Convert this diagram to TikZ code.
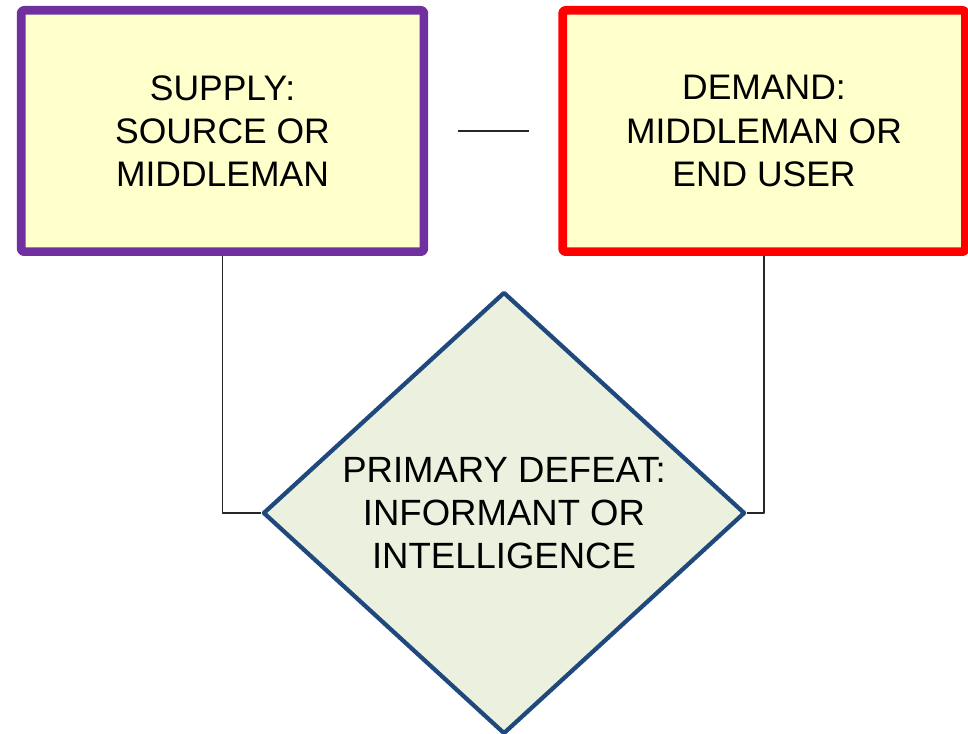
\documentclass[tikz,border=0pt]{standalone}
\usepackage{fontspec}
\setmainfont{Liberation Sans}
\usetikzlibrary{shapes.geometric}
\definecolor{boxfill}{HTML}{FFFFCC}
\definecolor{supplyline}{HTML}{7030A0}
\definecolor{defeatfill}{HTML}{EBF1DE}
\definecolor{defeatline}{HTML}{1F497D}
\begin{document}
\begin{tikzpicture}[x=0.75pt, y=-0.75pt, line join=round,
        every node/.style={font=\fontsize{26.6}{32.3}\selectfont, align=center, inner sep=0pt},
        sidebox/.style={rectangle, rounded corners=2pt, fill=boxfill, line width=6.5pt,
            minimum width=302pt, minimum height=181pt},
        link/.style={draw=black!85, line width=0.9pt}]
        \useasboundingbox (0,0) rectangle (968,734);

        \node [sidebox, draw=supplyline] (supply) at (222.5,131) {SUPPLY:\\SOURCE OR\\MIDDLEMAN};
        \node [sidebox, draw=red] (demand) at (764,131) {DEMAND:\\MIDDLEMAN OR\\END USER};
        \node [diamond, fill=defeatfill, draw=defeatline, line width=3.2pt, aspect=1.09,
            minimum width=361.5pt, minimum height=331.5pt,
            font=\fontsize{27.4}{32.3}\selectfont] (defeat) at (504,513)
            {PRIMARY DEFEAT:\\INFORMANT OR\\INTELLIGENCE};

        \draw [link, shorten <=22pt, shorten >=22pt] (supply) -- (demand);
        \draw [link] (supply.south) |- (defeat.west);
        \draw [link] (demand.south) |- (defeat.east);
    \end{tikzpicture}
\end{document}
